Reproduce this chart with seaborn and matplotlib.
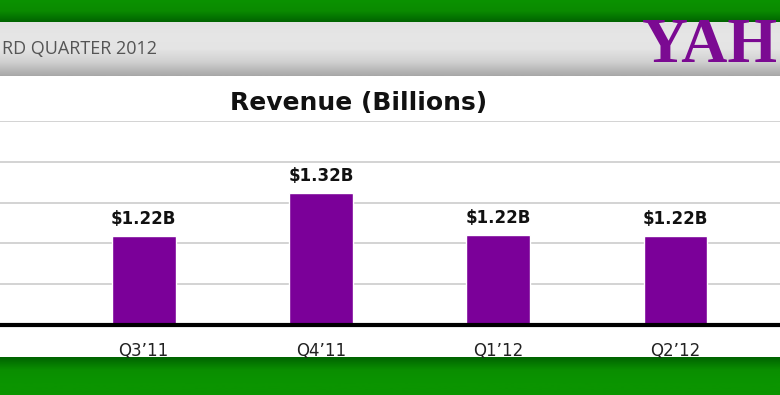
import numpy as np
import pandas as pd
import matplotlib
matplotlib.use("Agg")
import matplotlib.pyplot as plt
import seaborn as sns
from matplotlib.colors import LinearSegmentedColormap

quarters = ["Q3\u201911", "Q4\u201911", "Q1\u201912", "Q2\u201912"]
revenue = [1.217, 1.324, 1.221, 1.218]
labels = ["$1.22B", "$1.32B", "$1.22B", "$1.22B"]
grid_ticks = [1.0, 1.1, 1.2, 1.3, 1.4, 1.5]

sns.set_theme(style="white")
plt.rcParams['font.family'] = ['DejaVu Sans']

df = pd.DataFrame({"quarter": quarters, "revenue": revenue})

fig = plt.figure(figsize=(7.8, 3.95), dpi=100)
fig.patch.set_facecolor("white")

H = 395.0
def band(top, bottom):
    return [0, 1 - bottom / H, 1, (bottom - top) / H]

g = np.linspace(0, 1, 50).reshape(-1, 1)

# green bands top and bottom
top_green = fig.add_axes(band(0, 22))
cm_top = LinearSegmentedColormap.from_list("t", ["#0b9200", "#0a8a00", "#006400"])
top_green.imshow(g, aspect="auto", cmap=cm_top, extent=[0, 1, 0, 1])
top_green.axis("off")

bot_green = fig.add_axes(band(357, 395))
cm_bot = LinearSegmentedColormap.from_list("b", ["#006400", "#0a8e00", "#0b9400", "#0b9400"])
bot_green.imshow(g, aspect="auto", cmap=cm_bot, extent=[0, 1, 0, 1])
bot_green.axis("off")

# gray header band
head = fig.add_axes(band(22, 76))
cm_head = LinearSegmentedColormap.from_list("h", ["#e2e2e2", "#e6e6e6", "#e4e4e4", "#d0d0d0", "#a8a8a8"])
head.imshow(g, aspect="auto", cmap=cm_head, extent=[0, 1, 0, 1])
head.set_xlim(0, 1)
head.set_ylim(0, 1)
head.axis("off")
head.text(0.002, 0.5, "RD QUARTER 2012", fontsize=13, color="#555555",
          ha="left", va="center", family=["Open Sans", "DejaVu Sans"])
head.text(0.997, 0.0, "YAH", fontsize=46, color="#7b0a92", fontweight="bold",
          ha="right", va="bottom", family=["Liberation Serif", "DejaVu Serif"])

# main chart
ax = fig.add_axes([0, 1 - 325 / H, 1, (325 - 121) / H])
sns.barplot(data=df, x="quarter", y="revenue", color="#7b0099", saturation=1,
            width=0.36, ax=ax, zorder=3)
ax.set_ylim(1.0, 1.5)
ax.set_xlim(-0.81, 3.59)
ax.set_yticks(grid_ticks)
ax.yaxis.grid(True, color="#cccccc", linewidth=1.2, zorder=0)
ax.set_axisbelow(True)
for s in ["top", "left", "right"]:
    ax.spines[s].set_visible(False)
ax.spines["bottom"].set_color("black")
ax.spines["bottom"].set_linewidth(3)
ax.spines["bottom"].set_zorder(5)
ax.tick_params(axis="y", left=False, labelleft=False)
ax.tick_params(axis="x", bottom=False, labelsize=12, labelcolor="#222222", pad=6)
ax.set_xlabel("")
ax.set_ylabel("")
ax.set_facecolor("white")

for i, (v, lab) in enumerate(zip(revenue, labels)):
    ax.text(i, v + 0.02, lab, ha="center", va="bottom", fontsize=12,
            fontweight="bold", color="#111111")

fig.text(0.46, 1 - 103 / H, "Revenue (Billions)", ha="center", va="center",
         fontsize=18, fontweight="bold", color="#111111")

fig.savefig("out.png", dpi=100)
